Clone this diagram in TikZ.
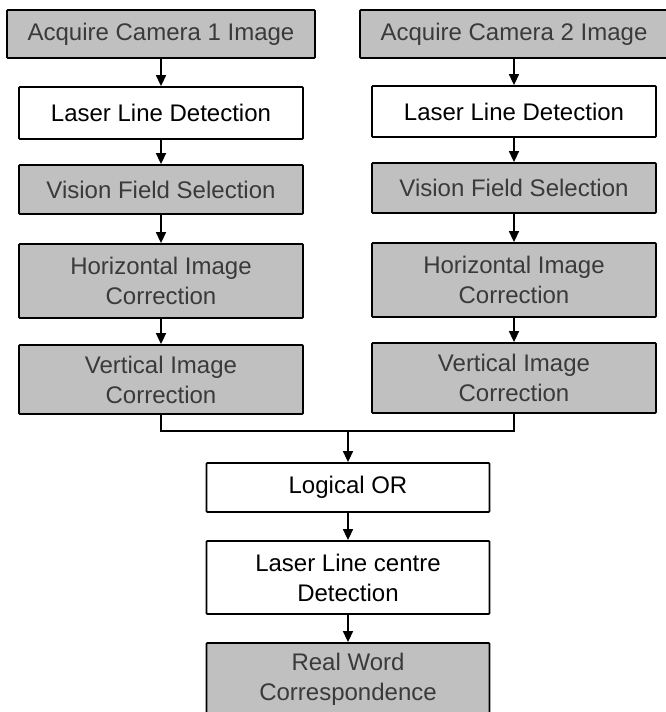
\documentclass[tikz,border=0pt]{standalone}
\usepackage{fontspec}
\setmainfont{Liberation Sans}
\usetikzlibrary{arrows.meta}
\definecolor{boxgrey}{HTML}{C0C0C0}
\definecolor{boxtext}{HTML}{3A3A3A}
\tikzset{
	stepgrey/.style={draw=black, line width=1.8pt, fill=boxgrey, text=boxtext, align=center, inner sep=0pt, rounded corners=0.8pt, font=\fontsize{24}{30}\selectfont},
	stepwhite/.style={draw=black, line width=1.8pt, fill=white, text=black, align=center, inner sep=0pt, rounded corners=0.8pt, font=\fontsize{24}{30}\selectfont},
	flow/.style={-{Triangle[length=11pt,width=10pt]}, line width=1.6pt}
}

\begin{document}
\begin{tikzpicture}[x=1pt, y=-1pt]
				\useasboundingbox (0,0) rectangle (665,712);
				
				% camera 1
				\node[stepgrey, minimum width=308pt, minimum height=48pt] (cam1) at (161,34) {Acquire Camera 1 Image};
				\node[stepwhite, minimum width=284pt, minimum height=52pt] (lld1) at (161,113) {Laser Line Detection};
				\node[stepgrey, minimum width=284pt, minimum height=49pt] (vfs1) at (161,189.5) {Vision Field Selection};
				\node[stepgrey, minimum width=284pt, minimum height=74pt] (hic1) at (161,281) {Horizontal Image\\Correction};
				\node[stepgrey, minimum width=284pt, minimum height=69pt] (vic1) at (161,379.5) {Vertical Image\\Correction};
				
				% camera 2
				\node[stepgrey, minimum width=308pt, minimum height=48pt] (cam2) at (514,34) {Acquire Camera 2 Image};
				\node[stepwhite, minimum width=284pt, minimum height=51pt] (lld2) at (514,111.5) {Laser Line Detection};
				\node[stepgrey, minimum width=284pt, minimum height=50pt] (vfs2) at (514,188) {Vision Field Selection};
				\node[stepgrey, minimum width=284pt, minimum height=74pt] (hic2) at (514,280) {Horizontal Image\\Correction};
				\node[stepgrey, minimum width=284pt, minimum height=70pt] (vic2) at (514,378) {Vertical Image\\Correction};
				
				% merged part
				\node[stepwhite, minimum width=283pt, minimum height=49pt] (lor) at (348,487.5) {Logical OR};
				\node[stepwhite, minimum width=283pt, minimum height=73pt] (llcd) at (348,577.5) {Laser Line centre\\Detection};
				\node[stepgrey, minimum width=283pt, minimum height=73pt] (rwc) at (348,679.5) {Real Word\\Correspondence};
				
				\draw[flow] (cam1) -- (lld1);
				\draw[flow] (lld1) -- (vfs1);
				\draw[flow] (vfs1) -- (hic1);
				\draw[flow] (hic1) -- (vic1);
				
				\draw[flow] (cam2) -- (lld2);
				\draw[flow] (lld2) -- (vfs2);
				\draw[flow] (vfs2) -- (hic2);
				\draw[flow] (hic2) -- (vic2);
				
				\coordinate (join) at (348,431);
				\draw[line width=1.6pt] (vic1.south) |- (join);
				\draw[line width=1.6pt] (vic2.south) |- (join);
				\draw[flow] (join) -- (lor);
				\draw[flow] (lor) -- (llcd);
				\draw[flow] (llcd) -- (rwc);
			\end{tikzpicture}
\end{document}
